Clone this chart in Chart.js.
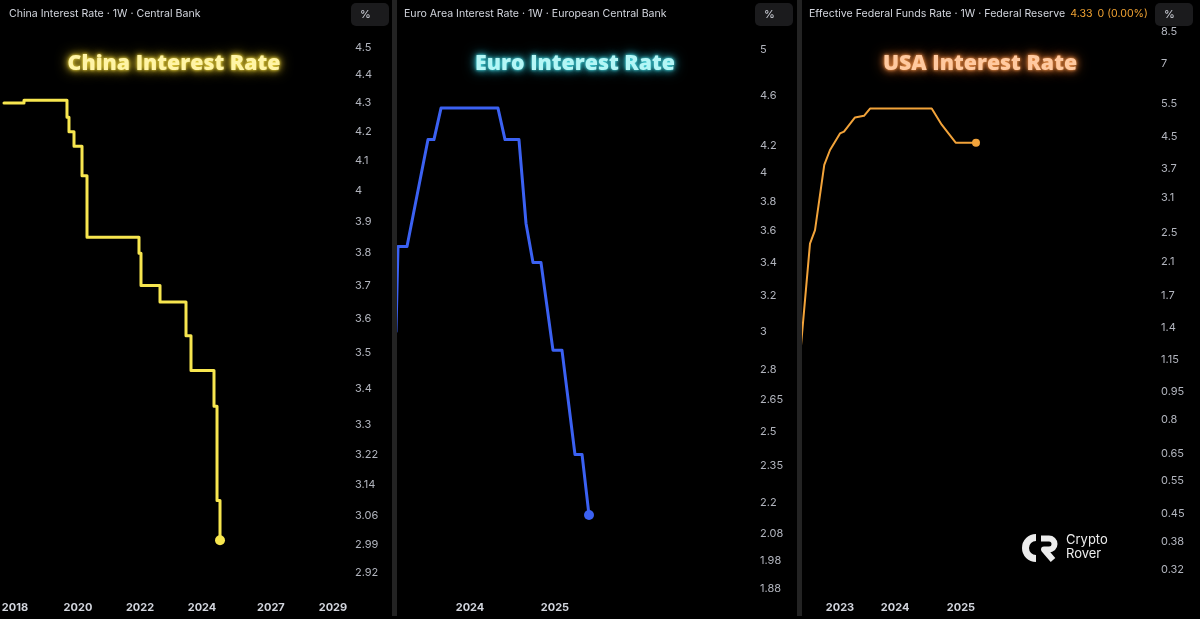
<!DOCTYPE html>
<html><head><meta charset="utf-8">
<script src="https://cdn.jsdelivr.net/npm/chart.js@4/dist/chart.umd.min.js"></script>
<style>
html,body{margin:0;padding:0;background:#000;width:1200px;height:619px;overflow:hidden;font-family:Inter,Roboto,sans-serif;}
canvas{position:absolute;top:0;}
.hdr{position:absolute;top:7px;font-size:10.6px;line-height:14px;color:#d1d4dc;white-space:nowrap;}
.hdr .v{color:#f0a232;margin-left:5px;}
.pct{position:absolute;top:3px;height:23px;width:38px;border-radius:5px;background:#1b1b1d;color:#d1d4dc;font-size:11px;line-height:23px;padding-left:9px;box-sizing:border-box;}
.title{position:absolute;top:50px;line-height:24px;transform:translateX(-50%);font-family:"Open Sans",sans-serif;font-weight:800;font-size:21.3px;white-space:nowrap;}
.sep{position:absolute;top:0;width:5px;height:616px;background:#232323;}
.logo{position:absolute;left:1015px;top:532px;}
.logotxt{position:absolute;left:1066px;top:532px;font-size:13px;line-height:14px;color:#ececec;font-family:Inter,sans-serif;}
</style></head>
<body>
<canvas id="cChina" width="392" height="619" style="left:0px"></canvas>
<canvas id="cEuro" width="400" height="619" style="left:397px"></canvas>
<canvas id="cUsa" width="398" height="619" style="left:802px"></canvas>

<div class="sep" style="left:392px"></div>
<div class="sep" style="left:797px"></div>

<div class="hdr" style="left:9px">China Interest Rate · 1W · Central Bank</div>
<div class="hdr" style="left:404px">Euro Area Interest Rate · 1W · European Central Bank</div>
<div class="hdr" style="left:809px">Effective Federal Funds Rate · 1W · Federal Reserve<span class="v">4.33</span><span class="v">0 (0.00%)</span></div>

<div class="pct" style="left:351px">%</div>
<div class="pct" style="left:755px">%</div>
<div class="pct" style="left:1155px">%</div>

<div class="title" style="left:174px;color:#fff4a6;text-shadow:0 0 3px #f2dc45,0 0 7px #e8cc30,0 0 13px #c9ad20;">China Interest Rate</div>
<div class="title" style="left:575px;color:#b4f6f6;text-shadow:0 0 3px #4ee0e6,0 0 7px #35c8d6,0 0 13px #2399aa;">Euro Interest Rate</div>
<div class="title" style="left:980px;color:#ffc9a0;text-shadow:0 0 3px #f59a50,0 0 7px #e7803a,0 0 13px #b85a20;">USA Interest Rate</div>

<svg class="logo" width="46" height="32" viewBox="0 0 46 32">
  <path d="M21,5.5 A10.5,10.5 0 1 0 21,26.5" fill="none" stroke="#ececec" stroke-width="7"/>
  <path d="M26,6.5 H34 A5.5,5.5 0 0 1 34,17.5 H29 L38,28" fill="none" stroke="#ececec" stroke-width="6" stroke-linejoin="round"/>
</svg>
<div class="logotxt">Crypto<br>Rover</div>

<script>
// ---- data (decimal year, rate %) ----
const chinaYears = [2017.647, 2018.289, 2019.668, 2019.732, 2019.893, 2020.150, 2020.310, 2021.978, 2022.042, 2022.652, 2023.486, 2023.646, 2024.384, 2024.481, 2024.577];
const chinaRates = [4.30, 4.31, 4.25, 4.20, 4.15, 4.05, 3.85, 3.80, 3.70, 3.65, 3.55, 3.45, 3.35, 3.10, 3.00];

const euroYears = [2023.129, 2023.153, 2023.259, 2023.506, 2023.576, 2023.659, 2024.329, 2024.412, 2024.576, 2024.659, 2024.741, 2024.835, 2024.976, 2025.082, 2025.235, 2025.318, 2025.400];
const euroRates = [3.00, 3.50, 3.50, 4.25, 4.25, 4.50, 4.50, 4.25, 4.25, 3.65, 3.40, 3.40, 2.90, 2.90, 2.40, 2.40, 2.15];

const usaYears = [2022.256, 2022.504, 2022.587, 2022.740, 2022.835, 2023.000, 2023.066, 2023.248, 2023.397, 2023.496, 2024.516, 2024.681, 2024.793, 2024.912, 2025.248];
const usaRates = [0.83, 2.34, 2.54, 3.78, 4.14, 4.58, 4.63, 5.05, 5.10, 5.33, 5.33, 4.83, 4.58, 4.33, 4.33];

// ---- tick labels ----
const chinaYTicks = [4.5, 4.4, 4.3, 4.2, 4.1, 4, 3.9, 3.8, 3.7, 3.6, 3.5, 3.4, 3.3, 3.22, 3.14, 3.06, 2.99, 2.92];
const euroYTicks = [5, 4.6, 4.2, 4, 3.8, 3.6, 3.4, 3.2, 3, 2.8, 2.65, 2.5, 2.35, 2.2, 2.08, 1.98, 1.88];
const usaYTicks = [8.5, 7, 5.5, 4.5, 3.7, 3.1, 2.5, 2.1, 1.7, 1.4, 1.15, 0.95, 0.8, 0.65, 0.55, 0.45, 0.38, 0.32];

const chinaXTickValues = [2018, 2020.02, 2022.01, 2024, 2026.21, 2028.2];
const chinaXTickLabels = ['2018', '2020', '2022', '2024', '2027', '2029'];
const euroXTickValues = [2024, 2025];
const euroXTickLabels = ['2024', '2025'];
const usaXTickValues = [2023, 2023.91, 2025];
const usaXTickLabels = ['2023', '2024', '2025'];

function makeChart(id, years, rates, o) {
  const n = years.length;
  const pts = years.map((x, i) => ({x: x, y: rates[i]}));
  return new Chart(document.getElementById(id), {
    type: 'line',
    data: {datasets: [{
      data: pts,
      borderColor: o.color,
      backgroundColor: o.color,
      borderWidth: o.lw,
      stepped: o.stepped || false,
      tension: 0,
      pointRadius: ctx => ctx.dataIndex === n - 1 ? o.dot : 0,
      pointBorderWidth: 0,
      pointHoverRadius: 0,
      borderJoinStyle: 'round',
      borderCapStyle: 'round'
    }]},
    options: {
      responsive: false,
      animation: false,
      devicePixelRatio: 1,
      layout: {padding: 0, autoPadding: false},
      plugins: {legend: {display: false}, tooltip: {enabled: false}},
      scales: {
        x: {
          type: 'linear', min: o.xMin, max: o.xMax, bounds: 'data',
          grid: {display: false, drawTicks: false}, border: {display: false},
          afterBuildTicks: s => { s.ticks = o.xTicks.map(v => ({value: v})); },
          afterFit: s => { s.height = 27; s.paddingLeft = 0; s.paddingRight = 0; s.paddingTop = 0; s.paddingBottom = 0; },
          ticks: {autoSkip: false, maxRotation: 0, padding: 9, color: '#d1d4dc',
            font: {family: 'Inter', size: 11, weight: 'bold'},
            callback: (v, i) => o.xLabels[i]}
        },
        y: {
          type: 'logarithmic', position: 'right', min: o.yMin, max: o.yMax, bounds: 'data',
          grid: {display: false, drawTicks: false}, border: {display: false},
          afterBuildTicks: s => { s.ticks = o.yTicks.map(v => ({value: v})); },
          afterFit: s => { s.width = o.axisW; s.paddingLeft = 0; s.paddingRight = 0; s.paddingTop = 0; s.paddingBottom = 0; },
          ticks: {autoSkip: false, padding: o.pad, color: '#b2b5be',
            font: {family: 'Inter', size: 11},
            callback: v => String(v)}
        }
      }
    }
  });
}

makeChart('cChina', chinaYears, chinaRates, {
  color: '#f7e64f', lw: 3, dot: 5, stepped: true,
  xMin: 2017.519, xMax: 2028.683, yMin: 2.8747, yMax: 4.681,
  yTicks: chinaYTicks, xTicks: chinaXTickValues, xLabels: chinaXTickLabels, axisW: 44, pad: 7
});
makeChart('cEuro', euroYears, euroRates, {
  color: '#3b61f2', lw: 3, dot: 5,
  xMin: 2023.1412, xMax: 2027.3294, yMin: 1.8698, yMax: 5.475,
  yTicks: euroYTicks, xTicks: euroXTickValues, xLabels: euroXTickLabels, axisW: 44, pad: 7
});
makeChart('cUsa', usaYears, usaRates, {
  color: '#f2a33a', lw: 2, dot: 4,
  xMin: 2022.3719, xMax: 2028.1736, yMin: 0.2798, yMax: 10.33,
  yTicks: usaYTicks, xTicks: usaXTickValues, xLabels: usaXTickLabels, axisW: 47, pad: 8
});
</script>
</body></html>
